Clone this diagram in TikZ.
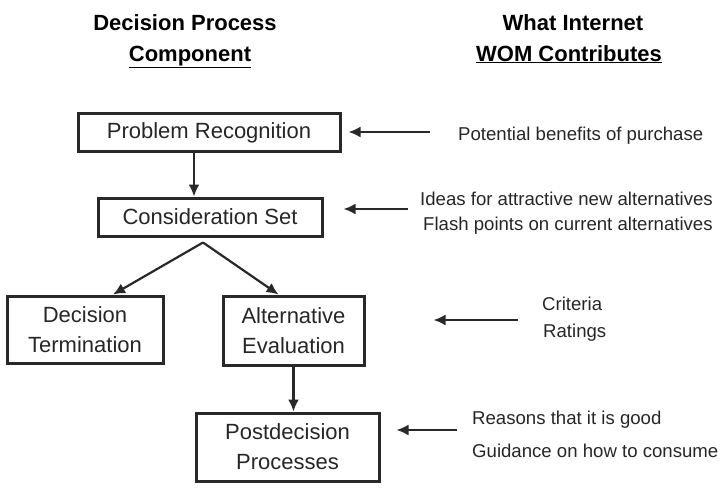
\documentclass[tikz,border=0pt]{standalone}
\usepackage{fontspec}
\setmainfont{Liberation Sans}
\usepackage{xcolor}
\usepackage{tikz}
\usetikzlibrary{arrows.meta}
\definecolor{boxgray}{RGB}{40,40,40}
\definecolor{txtgray}{RGB}{38,38,38}

\begin{document}
\begin{tikzpicture}[x=1pt,y=-1pt,
  box/.style={draw=boxgray,line width=3pt,inner sep=0pt,align=center,text=txtgray,
    font=\fontsize{22}{30}\selectfont},
  note/.style={inner sep=0pt,anchor=base west,text=txtgray,font=\fontsize{18.6}{22}\selectfont},
  head/.style={inner sep=0pt,anchor=base,text=black,font=\fontsize{22}{26}\selectfont\bfseries},
  arr/.style={-{Latex[length=12pt,width=11pt]},line width=2.2pt,draw=boxgray}]
\useasboundingbox (0,0) rectangle (723,488);
  \node[head] (hdec) at (185,30) {Decision Process};
  \node[head] (hcomp) at (190,61) {\underline{Component}};
  \node[head] (hwhat) at (573,30) {What Internet};
  \node[head] (hwom) at (569,61) {\underline{WOM Contributes}};
  \node[box,minimum width=262pt,minimum height=38pt] (prob) at (209,132.5) {Problem Recognition};
  \node[box,minimum width=224pt,minimum height=38pt] (cons) at (210,217) {Consideration Set};
  \node[box,minimum width=156pt,minimum height=67pt] (term) at (85,329.5) {Decision\\Termination};
  \node[box,minimum width=141pt,minimum height=69pt] (eval) at (293.5,330.5) {Alternative\\Evaluation};
  \node[box,minimum width=183pt,minimum height=68pt] (post) at (287.5,447) {Postdecision\\Processes};
  \draw[arr] ([xshift=-15pt]prob.south) -- ([xshift=-15pt]prob.south |- cons.north);
  \coordinate (split) at ([xshift=-7pt,yshift=-5pt]cons.south);
  \draw[arr] (split) -- ([xshift=28pt]term.north);
  \draw[arr] (split) -- ([xshift=-15pt]eval.north);
  \draw[arr] (eval.south) -- (eval.south |- post.north);
  \node[note] (benef) at (458,140) {Potential benefits of purchase};
  \node[note] (ideas) at (420,205) {Ideas for attractive new alternatives};
  \node[note] (flash) at (423,230) {Flash points on current alternatives};
  \node[note] (crit) at (542,310) {Criteria};
  \node[note] (rate) at (543,337) {Ratings};
  \node[note] (reas) at (472,424) {Reasons that it is good};
  \node[note] (guid) at (472,457) {Guidance on how to consume};
  \coordinate (wprob) at (430,132);
  \coordinate (wcons) at (408,209);
  \coordinate (weval) at (518,320);
  \coordinate (wpost) at (457,430);
  \draw[arr,shorten >=7pt] (wprob) -- (wprob -| prob.east);
  \draw[arr,shorten >=20pt] (wcons) -- (wcons -| cons.east);
  \draw[arr,shorten >=68pt] (weval) -- (weval -| eval.east);
  \draw[arr,shorten >=16pt] (wpost) -- (wpost -| post.east);
\end{tikzpicture}
\end{document}
